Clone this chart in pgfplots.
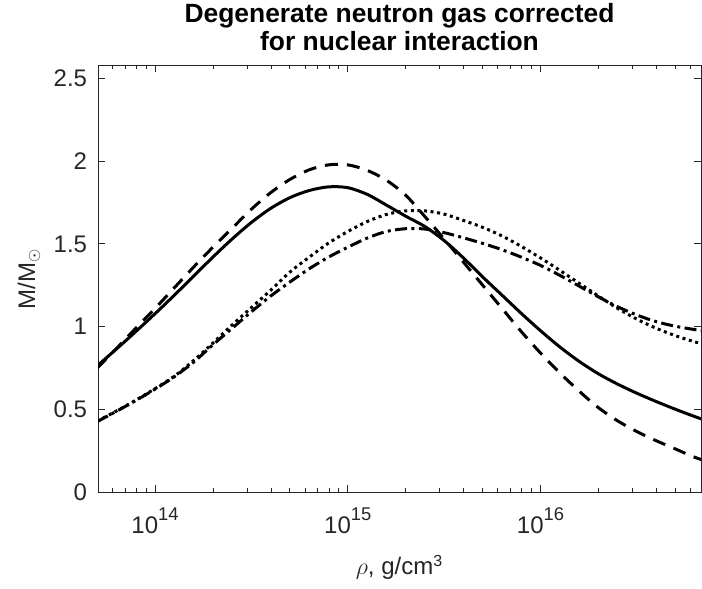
\documentclass[border=0pt]{standalone}
\usepackage{pgfplots}
\usepackage{pgfplotstable}
\pgfplotsset{compat=1.18}
\usepackage{fontspec}
\setmainfont{Liberation Sans}
\definecolor{axgray}{RGB}{38,38,38}
\newcommand{\tenp}[1]{10\raisebox{6.5pt}{\fontsize{9.2}{10}\selectfont #1}}

% rho [g/cm^3], M/Msun: S solid, D dashed, T dotted, DD dash-dot
\pgfplotstableread{
rho       S     D     T     DD
5.012e13  0.763 0.750 0.428 0.426
6.310e13  0.865 0.868 0.490 0.488
7.943e13  0.970 0.990 0.555 0.553
1.000e14  1.078 1.110 0.625 0.622
1.259e14  1.190 1.235 0.700 0.697
1.585e14  1.305 1.360 0.795 0.785
1.995e14  1.420 1.480 0.900 0.890
2.512e14  1.530 1.595 1.010 0.990
3.162e14  1.630 1.710 1.115 1.090
3.981e14  1.715 1.810 1.220 1.185
5.012e14  1.780 1.890 1.330 1.270
6.310e14  1.823 1.948 1.420 1.350
7.943e14  1.845 1.978 1.505 1.420
1.000e15  1.840 1.978 1.575 1.480
1.259e15  1.800 1.945 1.635 1.535
1.585e15  1.735 1.885 1.678 1.575
1.995e15  1.668 1.795 1.700 1.592
2.512e15  1.605 1.665 1.700 1.590
3.162e15  1.520 1.530 1.680 1.568
3.981e15  1.415 1.390 1.642 1.537
5.012e15  1.300 1.250 1.600 1.503
6.310e15  1.190 1.110 1.548 1.465
7.943e15  1.080 0.970 1.485 1.420
1.000e16  0.975 0.840 1.415 1.370
1.259e16  0.877 0.720 1.340 1.310
1.585e16  0.790 0.610 1.262 1.245
1.995e16  0.715 0.510 1.185 1.180
2.512e16  0.652 0.430 1.110 1.120
3.162e16  0.597 0.365 1.045 1.070
3.981e16  0.547 0.310 0.990 1.030
5.012e16  0.500 0.260 0.945 1.002
6.310e16  0.456 0.210 0.908 0.982
7.943e16  0.415 0.170 0.875 0.965
}\masses

\begin{document}
\begin{tikzpicture}
\begin{axis}[
  name=ax,
  scale only axis,
  width=301.5pt, height=213.35pt,
  xmode=log,
  xmin=5.06e13, xmax=6.8e16,
  ymin=0, ymax=2.58,
  xtick={1e14,1e15,1e16},
  xticklabels={\tenp{14},\tenp{15},\tenp{16}},
  minor xtick={6e13,7e13,8e13,9e13,2e14,3e14,4e14,5e14,6e14,7e14,8e14,9e14,
               2e15,3e15,4e15,5e15,6e15,7e15,8e15,9e15,2e16,3e16,4e16,5e16,6e16},
  ytick={0,0.5,1,1.5,2,2.5},
  yticklabels={0,0.5,1,1.5,2,2.5},
  tick align=inside,
  major tick length=3.3pt,
  minor tick length=2pt,
  every tick/.style={axgray, line width=0.5pt},
  axis line style={axgray, line width=0.5pt},
  every tick label/.append style={font=\fontsize{12}{14}\selectfont, text=axgray},
  yticklabel style={anchor=east, inner sep=0pt, xshift=-5.3pt},
  xticklabel style={anchor=base, inner sep=0pt, yshift=-20.7pt},
  ylabel={M/M$_\odot$},
  ylabel style={at={(axis description cs:-0.095,0.5)}, anchor=south, inner sep=0pt,
                font=\fontsize{12}{14}\selectfont, text=axgray},
  xlabel={$\rho$, g/cm\textsuperscript{3}},
  xlabel style={at={(axis description cs:0.5,-0.1945)}, anchor=base, inner sep=0pt,
                font=\fontsize{12}{14}\selectfont, text=axgray},
  title={Degenerate neutron gas corrected\\for nuclear interaction},
  every axis title shift=0pt,
  title style={at={(axis description cs:0.5,1.034)}, anchor=south, inner sep=0pt,
               align=center, font=\fontsize{13.2}{13.8}\selectfont\bfseries},
  every axis plot/.append style={black, line width=1.5pt, smooth},
]
\addplot[solid] table[x=rho, y=S] {\masses};
\addplot[dash pattern=on 6.5pt off 4.5pt] table[x=rho, y=D] {\masses};
\addplot[dash pattern=on 1.5pt off 1.8pt] table[x=rho, y=T] {\masses};
\addplot[dash pattern=on 6pt off 2.2pt on 1.5pt off 2.2pt] table[x=rho, y=DD] {\masses};
\end{axis}
\pgfresetboundingbox
\path[use as bounding box] ([shift={(-49pt,-48.5pt)}]ax.south west)
  rectangle ([shift={(0.5pt,32.65pt)}]ax.north east);
\end{tikzpicture}
\end{document}
